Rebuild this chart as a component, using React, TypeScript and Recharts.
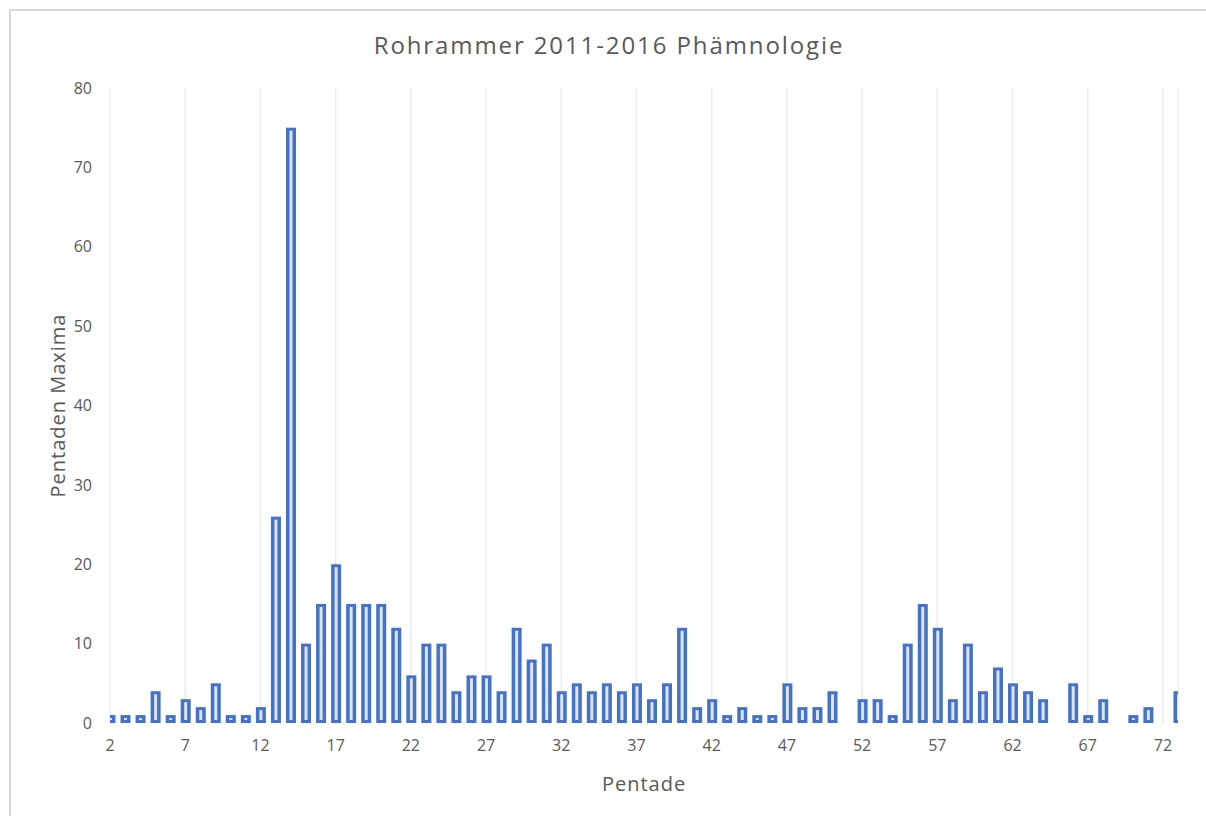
import React from 'react'
import { BarChart, Bar, XAxis, YAxis, CartesianGrid } from 'recharts'

const pentades = [
  2, 3, 4, 5, 6, 7, 8, 9, 10, 11, 12, 13, 14, 15, 16, 17, 18, 19, 20, 21, 22, 23, 24, 25,
  26, 27, 28, 29, 30, 31, 32, 33, 34, 35, 36, 37, 38, 39, 40, 41, 42, 43, 44, 45, 46, 47, 48, 49,
  50, 51, 52, 53, 54, 55, 56, 57, 58, 59, 60, 61, 62, 63, 64, 65, 66, 67, 68, 69, 70, 71, 72, 73,
]

const maxima = [
  1, 1, 1, 4, 1, 3, 2, 5, 1, 1, 2, 26, 75, 10, 15, 20, 15, 15, 15, 12, 6, 10, 10, 4,
  6, 6, 4, 12, 8, 10, 4, 5, 4, 5, 4, 5, 3, 5, 12, 2, 3, 1, 2, 1, 1, 5, 2, 2,
  4, 0, 3, 3, 1, 10, 15, 12, 3, 10, 4, 7, 5, 4, 3, 0, 5, 1, 3, 0, 1, 2, 0, 4,
]

const xTicks = [2, 7, 12, 17, 22, 27, 32, 37, 42, 47, 52, 57, 62, 67, 72]
const yTicks = [0, 10, 20, 30, 40, 50, 60, 70, 80]

const title = 'Rohrammer 2011-2016 Phämnologie'

const data = pentades.map((p, i) => ({ pentade: p, wert: maxima[i] }))

const FONT = '"Open Sans", sans-serif'
const GREY = '#595959'

const HollowBar = (props: any) => {
  const { x, y, width, height } = props
  if (!height || height <= 0) return null
  return (
    <g>
      <rect x={x} y={y} width={width} height={height} fill="#4472C4" />
      {height > 6 && (
        <rect x={x + 3.5} y={y + 3} width={width - 7} height={height - 6} fill="#dbe4f5" />
      )}
    </g>
  )
}

const YTitle = (props: any) => {
  const { viewBox } = props
  const cx = 57
  const cy = viewBox.y + viewBox.height / 2
  return (
    <text
      x={cx}
      y={cy}
      transform={`rotate(-90 ${cx} ${cy})`}
      textAnchor="middle"
      dominantBaseline="central"
      fontFamily={FONT}
      fontSize={20}
      letterSpacing={1}
      fill={GREY}
    >
      Pentaden Maxima
    </text>
  )
}

const XTitle = (props: any) => {
  const { viewBox } = props
  const cx = viewBox.x + viewBox.width / 2
  return (
    <text
      x={cx}
      y={783}
      textAnchor="middle"
      dominantBaseline="central"
      fontFamily={FONT}
      fontSize={20}
      letterSpacing={1}
      fill={GREY}
    >
      Pentade
    </text>
  )
}

export default function App() {
  return (
    <div style={{ position: 'absolute', left: 0, top: 0, width: 1206, height: 816, background: '#fff', overflow: 'hidden' }}>
      <div
        style={{
          position: 'absolute',
          left: 9,
          top: 9,
          width: 1220,
          height: 830,
          border: '2px solid #d9d9d9',
        }}
      />
      <div
        style={{
          position: 'absolute',
          left: 0,
          top: 30,
          width: 1218,
          textAlign: 'center',
          fontFamily: FONT,
          fontSize: 24,
          letterSpacing: 1.9,
          color: GREY,
          lineHeight: '30px',
        }}
      >
        {title}
      </div>
      <div style={{ position: 'absolute', left: 0, top: 0 }}>
        <BarChart width={1206} height={816} data={data} margin={{ top: 88, right: 28, bottom: 63, left: 30 }}>
          <CartesianGrid horizontal={false} stroke="#ebebeb" strokeWidth={1.5} />
          <XAxis
            dataKey="pentade"
            type="number"
            domain={[2, 73]}
            ticks={xTicks}
            allowDataOverflow
            axisLine={false}
            tickLine={false}
            tickSize={0}
            tickMargin={17}
            height={30}
            interval={0}
            tick={{ fontFamily: FONT, fontSize: 16, fill: GREY }}
            label={{ content: XTitle }}
          />
          <YAxis
            domain={[0, 80]}
            ticks={yTicks}
            axisLine={false}
            tickLine={false}
            tickSize={0}
            tickMargin={18}
            width={80}
            tick={{ fontFamily: FONT, fontSize: 16, fill: GREY }}
            label={{ content: YTitle }}
          />
          <Bar dataKey="wert" barSize={10} shape={HollowBar} isAnimationActive={false} />
        </BarChart>
      </div>
    </div>
  )
}
